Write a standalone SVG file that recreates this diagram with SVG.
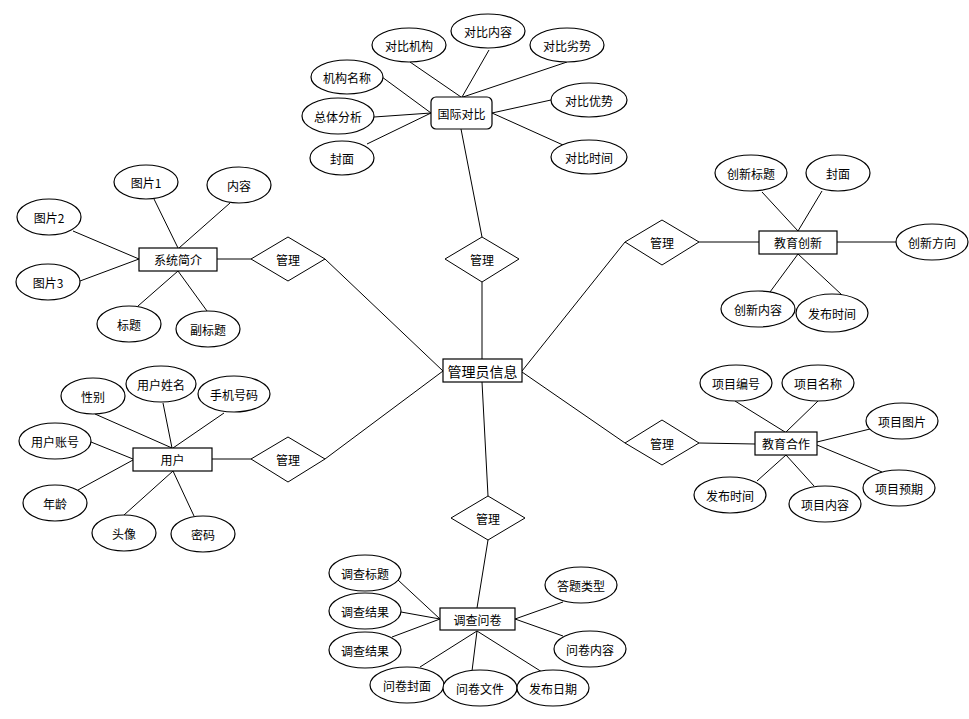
<svg xmlns="http://www.w3.org/2000/svg" width="969" height="719" viewBox="0 0 969 719">
<style>
.l{stroke:#000;stroke-width:1;fill:none}
.e{fill:#fff;stroke:#000;stroke-width:1.2}
.r{fill:#fff;stroke:#000;stroke-width:1.2}
.d{fill:#fff;stroke:#000;stroke-width:1}
text{font-family:"Noto Sans CJK SC","Liberation Sans",sans-serif;font-size:12px;fill:#000;text-anchor:middle;dominant-baseline:central}
.big{font-size:14px}
</style>
<rect width="969" height="719" fill="#fff"/>
<g id="connectors">
<line class="l" x1="410" y1="62" x2="461" y2="97"/>
<line class="l" x1="489" y1="50" x2="462" y2="97"/>
<line class="l" x1="567" y1="62" x2="463" y2="97"/>
<line class="l" x1="382" y1="77" x2="431" y2="113"/>
<line class="l" x1="374" y1="117" x2="431" y2="113"/>
<line class="l" x1="367" y1="144" x2="431" y2="113"/>
<line class="l" x1="551" y1="100" x2="492" y2="113"/>
<line class="l" x1="563" y1="145" x2="492" y2="113"/>
<line class="l" x1="461" y1="129" x2="482" y2="237"/>
<line class="l" x1="482" y1="282" x2="482" y2="359"/>
<line class="l" x1="154" y1="199" x2="178" y2="248"/>
<line class="l" x1="230" y1="203" x2="179" y2="248"/>
<line class="l" x1="73" y1="231" x2="139" y2="259"/>
<line class="l" x1="80" y1="281" x2="139" y2="259"/>
<line class="l" x1="138" y1="306" x2="178" y2="271"/>
<line class="l" x1="207" y1="311" x2="178" y2="271"/>
<line class="l" x1="217" y1="259" x2="251" y2="259"/>
<line class="l" x1="325" y1="259" x2="443" y2="371"/>
<line class="l" x1="95" y1="414" x2="172" y2="448"/>
<line class="l" x1="163" y1="403" x2="172" y2="448"/>
<line class="l" x1="224" y1="413" x2="173" y2="448"/>
<line class="l" x1="91" y1="442" x2="133" y2="459"/>
<line class="l" x1="78" y1="490" x2="133" y2="460"/>
<line class="l" x1="124" y1="515" x2="173" y2="471"/>
<line class="l" x1="194" y1="516" x2="173" y2="471"/>
<line class="l" x1="212" y1="459" x2="251" y2="459"/>
<line class="l" x1="325" y1="459" x2="443" y2="371"/>
<line class="l" x1="762" y1="192" x2="798" y2="231"/>
<line class="l" x1="822" y1="191" x2="798" y2="231"/>
<line class="l" x1="837" y1="242" x2="897" y2="242"/>
<line class="l" x1="699" y1="242" x2="759" y2="242"/>
<line class="l" x1="770" y1="292" x2="798" y2="254"/>
<line class="l" x1="842" y1="295" x2="798" y2="254"/>
<line class="l" x1="625" y1="242" x2="522" y2="371"/>
<line class="l" x1="735" y1="401" x2="785" y2="432"/>
<line class="l" x1="818" y1="401" x2="786" y2="432"/>
<line class="l" x1="870" y1="429" x2="817" y2="442"/>
<line class="l" x1="882" y1="472" x2="817" y2="445"/>
<line class="l" x1="699" y1="443" x2="755" y2="444"/>
<line class="l" x1="757" y1="481" x2="786" y2="455"/>
<line class="l" x1="814" y1="486" x2="786" y2="455"/>
<line class="l" x1="625" y1="443" x2="522" y2="372"/>
<line class="l" x1="482" y1="382" x2="488" y2="496"/>
<line class="l" x1="488" y1="540" x2="477" y2="608"/>
<line class="l" x1="398" y1="580" x2="440" y2="619"/>
<line class="l" x1="401" y1="612" x2="440" y2="619"/>
<line class="l" x1="392" y1="637" x2="440" y2="619"/>
<line class="l" x1="563" y1="602" x2="515" y2="619"/>
<line class="l" x1="563" y1="636" x2="515" y2="619"/>
<line class="l" x1="420" y1="667" x2="477" y2="631"/>
<line class="l" x1="472" y1="671" x2="477" y2="631"/>
<line class="l" x1="542" y1="672" x2="477" y2="631"/>
</g>
<g id="center"><rect class="r" x="443" y="359" width="79" height="23"/><text class="big" x="482.5" y="370.5">管理员信息</text></g>
<g id="rel-top"><polygon class="d" points="482,237 519,259 482,282 445,259"/><text x="482" y="259">管理</text></g>
<g id="rel-left1"><polygon class="d" points="288,237 325,259 288,281 251,259"/><text x="288" y="259">管理</text></g>
<g id="rel-left2"><polygon class="d" points="288,437 325,459 288,482 251,459"/><text x="288" y="459">管理</text></g>
<g id="rel-right1"><polygon class="d" points="662,220 699,242 662,265 625,242"/><text x="662" y="242">管理</text></g>
<g id="rel-right2"><polygon class="d" points="662,420 699,443 662,465 625,443"/><text x="662" y="443">管理</text></g>
<g id="rel-bottom"><polygon class="d" points="488,496 525,518 488,540 451,518"/><text x="488" y="518">管理</text></g>
<g id="gjdb"><rect class="r" x="431" y="97" width="61" height="32" rx="5"/><text x="461.5" y="113">国际对比</text></g>
<g id="a1"><ellipse class="e" cx="409" cy="45" rx="37" ry="17"/><text x="409" y="45">对比机构</text></g>
<g id="a2"><ellipse class="e" cx="488" cy="31" rx="37" ry="17"/><text x="488" y="31">对比内容</text></g>
<g id="a3"><ellipse class="e" cx="567" cy="45" rx="37" ry="17"/><text x="567" y="45">对比劣势</text></g>
<g id="a4"><ellipse class="e" cx="347" cy="77" rx="36" ry="17"/><text x="347" y="77">机构名称</text></g>
<g id="a5"><ellipse class="e" cx="338" cy="116" rx="36" ry="18"/><text x="338" y="116">总体分析</text></g>
<g id="a6"><ellipse class="e" cx="342" cy="158" rx="32" ry="17"/><text x="342" y="158">封面</text></g>
<g id="a7"><ellipse class="e" cx="589" cy="100" rx="38" ry="17"/><text x="589" y="100">对比优势</text></g>
<g id="a8"><ellipse class="e" cx="589" cy="157" rx="38" ry="17"/><text x="589" y="157">对比时间</text></g>
<g id="xtjj"><rect class="r" x="139" y="248" width="78" height="23"/><text x="178" y="259.5">系统简介</text></g>
<g id="b1"><ellipse class="e" cx="146" cy="182" rx="32" ry="17"/><text x="146" y="182">图片1</text></g>
<g id="b2"><ellipse class="e" cx="239" cy="185" rx="32" ry="18"/><text x="239" y="185">内容</text></g>
<g id="b3"><ellipse class="e" cx="49" cy="217" rx="32" ry="18"/><text x="49" y="217">图片2</text></g>
<g id="b4"><ellipse class="e" cx="48" cy="282" rx="32" ry="18"/><text x="48" y="282">图片3</text></g>
<g id="b5"><ellipse class="e" cx="129" cy="324" rx="32" ry="18"/><text x="129" y="324">标题</text></g>
<g id="b6"><ellipse class="e" cx="208" cy="329" rx="32" ry="18"/><text x="208" y="329">副标题</text></g>
<g id="yh"><rect class="r" x="133" y="448" width="79" height="23"/><text x="172.5" y="459.5">用户</text></g>
<g id="c1"><ellipse class="e" cx="93" cy="396" rx="32" ry="18"/><text x="93" y="396">性别</text></g>
<g id="c2"><ellipse class="e" cx="161" cy="384" rx="35" ry="18"/><text x="161" y="384">用户姓名</text></g>
<g id="c3"><ellipse class="e" cx="234" cy="394" rx="36" ry="18"/><text x="234" y="394">手机号码</text></g>
<g id="c4"><ellipse class="e" cx="55" cy="441" rx="36" ry="18"/><text x="55" y="441">用户账号</text></g>
<g id="c5"><ellipse class="e" cx="55" cy="503" rx="32" ry="18"/><text x="55" y="503">年龄</text></g>
<g id="c6"><ellipse class="e" cx="124" cy="533" rx="32" ry="18"/><text x="124" y="533">头像</text></g>
<g id="c7"><ellipse class="e" cx="203" cy="534" rx="32" ry="18"/><text x="203" y="534">密码</text></g>
<g id="jycx"><rect class="r" x="759" y="231" width="78" height="23"/><text x="798" y="242.5">教育创新</text></g>
<g id="d1"><ellipse class="e" cx="751" cy="173" rx="36" ry="18"/><text x="751" y="173">创新标题</text></g>
<g id="d2"><ellipse class="e" cx="838" cy="173" rx="32" ry="18"/><text x="838" y="173">封面</text></g>
<g id="d3"><ellipse class="e" cx="932" cy="242" rx="36" ry="18"/><text x="932" y="242">创新方向</text></g>
<g id="d4"><ellipse class="e" cx="758" cy="309" rx="37" ry="18"/><text x="758" y="309">创新内容</text></g>
<g id="d5"><ellipse class="e" cx="832" cy="313" rx="36" ry="19"/><text x="832" y="313">发布时间</text></g>
<g id="jyhz"><rect class="r" x="755" y="432" width="62" height="23" stroke-width="1.6"/><text x="786" y="443.5">教育合作</text></g>
<g id="f1"><ellipse class="e" cx="736" cy="383" rx="36" ry="18"/><text x="736" y="383">项目编号</text></g>
<g id="f2"><ellipse class="e" cx="818" cy="383" rx="36" ry="18"/><text x="818" y="383">项目名称</text></g>
<g id="f3"><ellipse class="e" cx="902" cy="421" rx="36" ry="18"/><text x="902" y="421">项目图片</text></g>
<g id="f4"><ellipse class="e" cx="899" cy="488" rx="36" ry="18"/><text x="899" y="488">项目预期</text></g>
<g id="f5"><ellipse class="e" cx="730" cy="495" rx="36" ry="18"/><text x="730" y="495">发布时间</text></g>
<g id="f6"><ellipse class="e" cx="825" cy="504" rx="36" ry="18"/><text x="825" y="504">项目内容</text></g>
<g id="dcwj"><rect class="r" x="440" y="608" width="75" height="22"/><text x="477.5" y="619">调查问卷</text></g>
<g id="g1"><ellipse class="e" cx="365" cy="573" rx="36" ry="18"/><text x="365" y="573">调查标题</text></g>
<g id="g2"><ellipse class="e" cx="365" cy="611" rx="36" ry="18"/><text x="365" y="611">调查结果</text></g>
<g id="g3"><ellipse class="e" cx="365" cy="650" rx="36" ry="18"/><text x="365" y="650">调查结果</text></g>
<g id="g4"><ellipse class="e" cx="581" cy="585" rx="36" ry="18"/><text x="581" y="585">答题类型</text></g>
<g id="g5"><ellipse class="e" cx="590" cy="649" rx="36" ry="18"/><text x="590" y="649">问卷内容</text></g>
<g id="g6"><ellipse class="e" cx="407" cy="685" rx="37" ry="18"/><text x="407" y="685">问卷封面</text></g>
<g id="g7"><ellipse class="e" cx="480" cy="688" rx="37" ry="18"/><text x="480" y="688">问卷文件</text></g>
<g id="g8"><ellipse class="e" cx="553" cy="688" rx="36" ry="18"/><text x="553" y="688">发布日期</text></g>
</svg>
